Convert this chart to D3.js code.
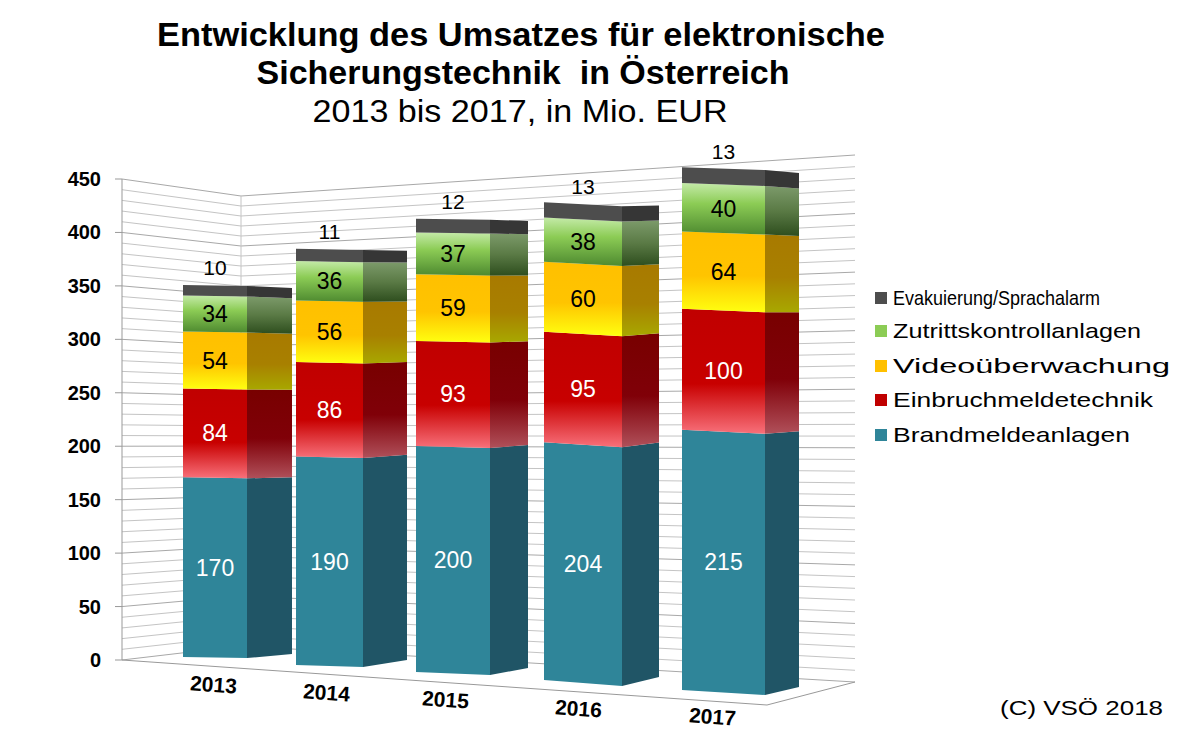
<!DOCTYPE html>
<html><head><meta charset="utf-8">
<script src="https://d3js.org/d3.v7.min.js"></script>
<style>body{margin:0;background:#fff}svg{font-family:Arial,"Liberation Sans",sans-serif}</style>
</head><body><svg id="c" width="1182" height="735"></svg>
<script>
// ---- data ----
const years = ["2013","2014","2015","2016","2017"];
const seriesNames = ["Brandmeldeanlagen","Einbruchmeldetechnik","Videoüberwachung","Zutrittskontrollanlagen","Evakuierung/Sprachalarm"];
const brand = [170,190,200,204,215];
const einbruch = [84,86,93,95,100];
const video = [54,56,59,60,64];
const zutritt = [34,36,37,38,40];
const evak = [10,11,12,13,13];
const yTicks = [0,50,100,150,200,250,300,350,400,450];

// ---- perspective geometry (per bar: left, front-right, side-right edges) ----
const edgeX  = [[183,247,292],[296,363,407],[416,490,528],[544,622,659],[682,765,799]];
const edgeB  = [[657,658,654],[665,667,660],[672,675,668],[680,686,677],[690,695,687]];
const edgeK  = [[1.057,1.057,1.04],[1.098,1.10,1.08],[1.13,1.135,1.115],[1.165,1.17,1.15],[1.21,1.215,1.19]];

const svg = d3.select("#c");
const defs = svg.append("defs");
function grad(id, stops){
  const g = defs.append("linearGradient").attr("id",id).attr("x1",0).attr("y1",0).attr("x2",0).attr("y2",1);
  stops.forEach(s=>g.append("stop").attr("offset",s[0]).attr("stop-color",s[1]));
}
const frontFill = ["#2F8599","url(#rf)","url(#yf)","url(#gf)","#4d4d4d"];
const sideFill  = ["#205566","url(#rs)","url(#ys)","url(#gs)","#363636"];
grad("rf",[[0,"#C00000"],[0.6,"#C80000"],[1,"#F8707A"]]);
grad("rs",[[0,"#780000"],[0.55,"#800008"],[1,"#B0505A"]]);
grad("yf",[[0,"#FFC000"],[0.55,"#FFC400"],[1,"#FFFF10"]]);
grad("ys",[[0,"#A87A00"],[0.55,"#A88000"],[1,"#A8A800"]]);
grad("gf",[[0,"#C4EAA8"],[0.4,"#8CCC55"],[1,"#4E8A30"]]);
grad("gs",[[0,"#7C9A6A"],[0.5,"#5A7A45"],[1,"#2E4E1E"]]);
const legendFill = ["#2F8599","#C00000","#FFC000","#8CCC55","#4d4d4d"];

// ---- walls ----
const axisX = 122, cornerX = 241, rightX = 855;
const yAxis = d3.scaleLinear().domain([0,450]).range([660,179]);
const yCorner = d3.scaleLinear().domain([0,450]).range([646,196]);
const yRight = d3.scaleLinear().domain([0,450]).range([682,155]);
const gl = svg.append("g");
d3.range(0,451,10).forEach(v=>{
  gl.append("polyline").attr("points",`${axisX},${yAxis(v)} ${cornerX},${yCorner(v)} ${rightX},${yRight(v)}`)
    .attr("fill","none").attr("stroke", v%50===0?"#a8a8a8":"#c4c4c4").attr("stroke-width",1);
});
gl.append("line").attr("x1",axisX).attr("x2",axisX).attr("y1",yAxis(0)).attr("y2",yAxis(450)).attr("stroke","#999");
gl.append("line").attr("x1",cornerX).attr("x2",cornerX).attr("y1",yCorner(0)).attr("y2",yCorner(450)).attr("stroke","#c4c4c4");
gl.append("polyline").attr("points",`${axisX},${yAxis(0)} 767,705 ${rightX},${yRight(0)}`).attr("fill","none").attr("stroke","#999");
yTicks.forEach(v=>{
  gl.append("line").attr("x1",axisX-7).attr("x2",axisX).attr("y1",yAxis(v)).attr("y2",yAxis(v)).attr("stroke","#999");
  svg.append("text").attr("x",101).attr("y",yAxis(v)).attr("dy","0.35em").attr("text-anchor","end")
    .attr("font-size",20).attr("font-weight","bold").text(v);
});

// ---- bars ----
const series = [brand,einbruch,video,zutritt,evak];
years.forEach((yr,i)=>{
  const sc = [0,1,2].map(e=>d3.scaleLinear().domain([0,450]).range([edgeB[i][e], edgeB[i][e]-450*edgeK[i][e]]));
  const X = edgeX[i];
  let cum = 0;
  series.forEach((s,j)=>{
    const a = cum, b = cum + s[i]; cum = b;
    const front = [[X[0],sc[0](a)],[X[1],sc[1](a)],[X[1],sc[1](b)],[X[0],sc[0](b)]];
    const side  = [[X[1],sc[1](a)],[X[2],sc[2](a)],[X[2],sc[2](b)],[X[1],sc[1](b)]];
    svg.append("polygon").attr("points",front.join(" ")).attr("fill",frontFill[j]);
    svg.append("polygon").attr("points",side.join(" ")).attr("fill",sideFill[j]);
    const cx = (X[0]+X[1])/2;
    if(j<4){
      const mid=(a+b)/2;
      svg.append("text").attr("x",cx).attr("y",(sc[0](mid)+sc[1](mid))/2).attr("dy","0.35em")
        .attr("text-anchor","middle").attr("font-size",23).attr("fill", j<2?"#fff":"#000").text(s[i]);
    } else {
      svg.append("text").attr("x",cx).attr("y",(sc[0](b)+sc[1](b))/2-10)
        .attr("text-anchor","middle").attr("font-size",21).attr("fill","#000").text(s[i]);
    }
  });
});

// ---- x labels ----
const xLab = [[213,692],[326,700],[445,707],[578,716],[712,724]];
years.forEach((yr,i)=>{
  svg.append("text").attr("transform",`translate(${xLab[i][0]},${xLab[i][1]}) rotate(4)`)
    .attr("text-anchor","middle").attr("font-size",21).attr("font-weight","bold").text(yr);
});

// ---- legend ----
const legY = [298,331,366,400,435];
[4,3,2,1,0].forEach((j,k)=>{
  svg.append("rect").attr("x",875).attr("y",legY[k]-6).attr("width",12).attr("height",12).attr("fill",legendFill[j]);
  svg.append("text").attr("x",893).attr("y",legY[k]).attr("dy","0.35em").attr("font-size",21)
    .attr("textLength",[237,260,277,248,207][j]).attr("lengthAdjust","spacingAndGlyphs").text(seriesNames[j]);
});

// ---- titles ----
svg.append("text").attr("x",521).attr("y",46).attr("text-anchor","middle").attr("font-size",33).attr("font-weight","bold")
  .attr("textLength",728).attr("lengthAdjust","spacingAndGlyphs").text("Entwicklung des Umsatzes für elektronische");
svg.append("text").attr("x",523).attr("y",84).attr("text-anchor","middle").attr("font-size",33).attr("font-weight","bold").attr("xml:space","preserve")
  .attr("textLength",533).attr("lengthAdjust","spacingAndGlyphs").text("Sicherungstechnik  in Österreich");
svg.append("text").attr("x",520).attr("y",122).attr("text-anchor","middle").attr("font-size",32)
  .attr("textLength",415).attr("lengthAdjust","spacingAndGlyphs").text("2013 bis 2017, in Mio. EUR");
svg.append("text").attr("x",1163).attr("y",715).attr("text-anchor","end").attr("font-size",21)
  .attr("textLength",163).attr("lengthAdjust","spacingAndGlyphs").text("(C) VSÖ 2018");
</script></body></html>
